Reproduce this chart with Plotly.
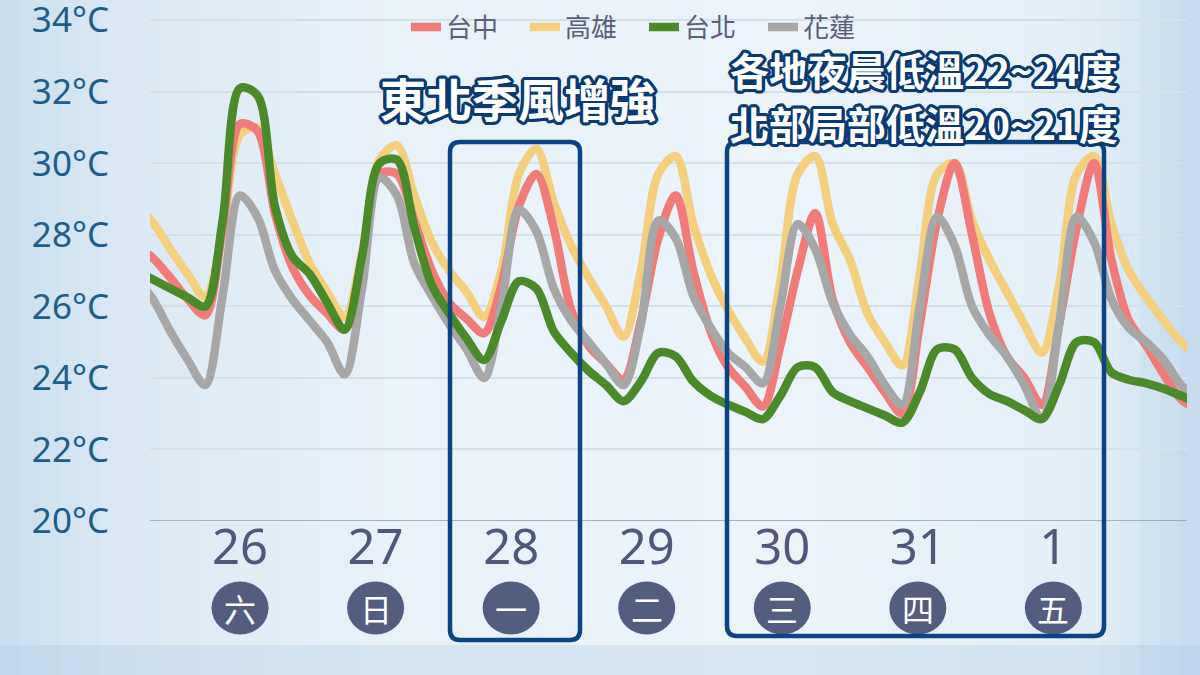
import numpy as np
import plotly.graph_objects as go

# ---------------- data ----------------
hours = list(range(-6, 178, 3))  # hours from 26th 00:00, 3-hourly

taichung = [27.7, 27.35, 26.8, 26.2, 25.75, 28.2, 31.1, 30.9, 28.6, 27.1, 26.3, 25.8, 25.35,
            27.3, 29.7, 29.7, 28.4, 27.0, 26.1, 25.65, 25.25,
            26.6, 28.8, 29.7, 28.2, 25.9, 24.9, 24.4, 23.95,
            25.6, 27.9, 29.1, 27.0, 25.3, 24.3, 23.75, 23.2,
            24.9, 27.0, 28.6, 26.2, 25.0, 24.3, 23.6, 23.0,
            25.5, 28.4, 30.0, 28.0, 25.8, 24.6, 24.0, 23.25,
            25.5, 28.2, 30.0, 27.3, 25.6, 24.9, 24.1, 23.4, 23.1]

kaohsiung = [28.9, 28.35, 27.6, 26.9, 26.25, 28.1, 30.8, 31.0, 29.7, 28.4, 27.2, 26.4, 25.7,
             27.5, 30.1, 30.5, 29.1, 27.8, 27.0, 26.4, 25.7,
             27.0, 29.7, 30.4, 28.9, 27.7, 26.8, 26.0, 25.15,
             27.0, 29.7, 30.2, 28.3, 26.9, 25.9, 25.1, 24.45,
             26.7, 29.7, 30.2, 28.3, 27.3, 25.8, 25.0, 24.35,
             26.9, 29.7, 30.0, 28.4, 27.3, 26.4, 25.5, 24.7,
             26.6, 29.7, 30.2, 28.3, 27.0, 26.25, 25.6, 25.0, 24.6]

taipei = [27.0, 26.75, 26.5, 26.25, 26.0, 28.4, 32.1, 31.9, 28.8, 27.4, 26.9, 26.1, 25.35,
          27.4, 30.0, 30.1, 28.2, 26.6, 25.8, 25.1, 24.5,
          25.6, 26.7, 26.5, 25.3, 24.7, 24.2, 23.8, 23.35,
          23.9, 24.7, 24.6, 23.9, 23.5, 23.25, 23.05, 22.85,
          23.5, 24.3, 24.3, 23.6, 23.35, 23.15, 22.95, 22.75,
          23.6, 24.8, 24.8, 24.0, 23.55, 23.35, 23.1, 22.85,
          23.8, 25.0, 25.0, 24.15, 23.95, 23.85, 23.7, 23.5, 23.3]

hualien = [26.8, 26.2, 25.3, 24.5, 23.8, 26.3, 29.1, 28.5, 27.0, 26.2, 25.6, 25.0, 24.1,
           26.5, 29.6, 29.1, 27.2, 26.3, 25.5, 24.8, 24.0,
           26.0, 28.7, 28.1, 26.5, 25.6, 25.0, 24.4, 23.8,
           25.5, 28.4, 27.9, 26.3, 25.4, 24.7, 24.3, 23.85,
           26.0, 28.3, 27.6, 26.1, 25.2, 24.6, 23.8, 23.25,
           26.0, 28.5, 27.7, 26.0, 25.2, 24.6, 23.8, 22.85,
           25.5, 28.5, 27.8, 26.2, 25.4, 25.0, 24.5, 23.8, 23.4]

series_names = ["台中", "高雄", "台北", "花蓮"]
series_colors = ["#F07B78", "#F3CF7E", "#4A8A29", "#A7A7A8"]
day_labels = ["26", "27", "28", "29", "30", "31", "1"]
weekday_labels = ["六", "日", "一", "二", "三", "四", "五"]
y_tick_values = [20, 22, 24, 26, 28, 30, 32, 34]
y_tick_labels = ["20°C", "22°C", "24°C", "26°C", "28°C", "30°C", "32°C", "34°C"]
note_monsoon = "東北季風增強"
note_low_1 = "各地夜晨低溫22~24度"
note_low_2 = "北部局部低溫20~21度"

for s in (taichung, kaohsiung, taipei, hualien):
    assert len(s) == len(hours), (len(s), len(hours))

# ---------------- layout geometry ----------------
W, H = 1200, 675
ML, MR, MT, MB = 150, 13, 13, 154
PW, PH = W - ML - MR, H - MT - MB


def px(x):
    return (x - ML) / PW


def py(y):
    return (H - MB - y) / PH


def lerp_color(stops, x):
    for (x0, c0), (x1, c1) in zip(stops[:-1], stops[1:]):
        if x0 <= x <= x1:
            t = (x - x0) / (x1 - x0)
            return tuple(int(round(a + (b - a) * t)) for a, b in zip(c0, c1))
    return stops[-1][1]


fig = go.Figure()

series = {"台中": taichung, "高雄": kaohsiung, "台北": taipei, "花蓮": hualien}
color_of = dict(zip(series_names, series_colors))
rank_of = {n: i + 1 for i, n in enumerate(series_names)}
draw_order = ["高雄", "台中", "花蓮", "台北"]
for name in draw_order:
    fig.add_trace(go.Scatter(
        x=hours, y=series[name], name=name, mode="lines",
        line=dict(color=color_of[name], width=8.5, shape="spline", smoothing=0.9),
        legendrank=rank_of[name], hoverinfo="skip",
    ))

day_pos = np.linspace(12, 152, len(day_labels))

# ---------------- background gradient ----------------
shapes = []
stops = [(0, (200, 222, 238)), (120, (219, 233, 244)), (400, (233, 242, 249)),
         (800, (236, 244, 250)), (1100, (226, 238, 247)), (1160, (205, 225, 240)),
         (1200, (196, 219, 237))]
n = 60
for i in range(n):
    x0 = W * i / n
    x1 = W * (i + 1) / n
    c = lerp_color(stops, (x0 + x1) / 2)
    shapes.append(dict(type="rect", xref="paper", yref="paper",
                       x0=px(x0), x1=px(x1 + 1), y0=py(H), y1=py(0),
                       fillcolor=f"rgb{c}", line=dict(width=0), layer="below"))
shapes.append(dict(type="rect", xref="paper", yref="paper",
                   x0=px(0), x1=px(W), y0=py(H), y1=py(645),
                   fillcolor="rgba(170,200,225,0.30)", line=dict(width=0), layer="below"))

# weekday circles (pixel-sized, anchored on the day tick positions)
for d in day_pos:
    shapes.append(dict(type="circle", xref="x", yref="paper",
                       xsizemode="pixel", ysizemode="pixel",
                       xanchor=d, yanchor=py(608),
                       x0=-28.5, x1=28.5, y0=-26.5, y1=26.5,
                       fillcolor="#525D7F", line=dict(width=0), layer="above"))


def rounded_rect(x0, y0, x1, y1, r):
    X0, X1 = px(x0), px(x1)
    Y0, Y1 = py(y0), py(y1)
    rx, ry = r / PW, r / PH
    return (f"M {X0 + rx},{Y0} L {X1 - rx},{Y0} Q {X1},{Y0} {X1},{Y0 - ry} "
            f"L {X1},{Y1 + ry} Q {X1},{Y1} {X1 - rx},{Y1} "
            f"L {X0 + rx},{Y1} Q {X0},{Y1} {X0},{Y1 + ry} "
            f"L {X0},{Y0 - ry} Q {X0},{Y0} {X0 + rx},{Y0} Z")


box_color = "#0C4383"
shapes.append(dict(type="path", xref="paper", yref="paper",
                   path=rounded_rect(450, 142, 580, 640, 10),
                   line=dict(color=box_color, width=4.5), layer="above"))
shapes.append(dict(type="path", xref="paper", yref="paper",
                   path=rounded_rect(727, 142, 1104, 636, 10),
                   line=dict(color=box_color, width=4.5), layer="above"))

# ---------------- notes ----------------
offs = []
for k in range(16):
    a = 2 * np.pi * k / 16
    offs.append(f"{3.2 * np.cos(a):.1f}px {3.2 * np.sin(a):.1f}px 0 #0B3A73")
outline = ", ".join(offs)

annotations = [
    dict(text=note_monsoon, x=px(518), y=py(97), xref="paper", yref="paper",
         showarrow=False, xanchor="center", yanchor="middle",
         font=dict(family="Noto Sans CJK TC", size=46, color="white", weight="bold",
                   shadow=outline)),
    dict(text=note_low_1, x=px(924), y=py(69), xref="paper", yref="paper",
         showarrow=False, xanchor="center", yanchor="middle",
         font=dict(family="Noto Sans CJK TC", size=39, color="white", weight="bold",
                   shadow=outline)),
    dict(text=note_low_2, x=px(924), y=py(123), xref="paper", yref="paper",
         showarrow=False, xanchor="center", yanchor="middle",
         font=dict(family="Noto Sans CJK TC", size=39, color="white", weight="bold",
                   shadow=outline)),
]
for d, wd in zip(day_pos, weekday_labels):
    annotations.append(dict(text=wd, x=d, y=py(608), xref="x", yref="paper",
                            showarrow=False, xanchor="center", yanchor="middle",
                            font=dict(family="Noto Sans CJK TC", size=32, color="white")))

fig.update_layout(
    width=W, height=H,
    margin=dict(l=ML, r=MR, t=MT, b=MB, pad=0, autoexpand=False),
    paper_bgcolor="#E6F0F7", plot_bgcolor="rgba(0,0,0,0)",
    shapes=shapes, annotations=annotations,
    showlegend=True,
    legend=dict(orientation="h", x=px(644), y=py(27), xanchor="center", yanchor="middle",
                bgcolor="rgba(0,0,0,0)", font=dict(family="Noto Sans CJK TC", size=26, color="#5A6078"),
                itemwidth=30, entrywidth=74, traceorder="normal"),
    xaxis=dict(range=[-3.5, 175], tickvals=day_pos, ticktext=day_labels,
               showgrid=False, zeroline=False, showline=False, automargin=False,
               ticks="outside", ticklen=2, tickcolor="rgba(0,0,0,0)",
               ticklabelstandoff=-19,
               tickfont=dict(family="Noto Sans", size=49, color="#4E5878"),
               fixedrange=True),
    yaxis=dict(range=[20, 34.2], tickvals=y_tick_values, ticktext=y_tick_labels,
               showgrid=True, gridcolor="#D6E0E9", gridwidth=1.5,
               zeroline=False, showline=False, automargin=False,
               ticks="outside", ticklen=33, tickcolor="rgba(0,0,0,0)",
               ticklabeloverflow="allow",
               tickfont=dict(family="Noto Sans", size=35, color="#1B5E89"),
               fixedrange=True),
)

# axis baseline at 20°C
fig.add_shape(type="line", xref="paper", yref="y", x0=0, x1=1, y0=20, y1=20,
              line=dict(color="#8E9EB2", width=1.5), layer="below")

fig.write_html("out.html", config={"displayModeBar": False},
               post_script="document.body.style.margin='0';")
